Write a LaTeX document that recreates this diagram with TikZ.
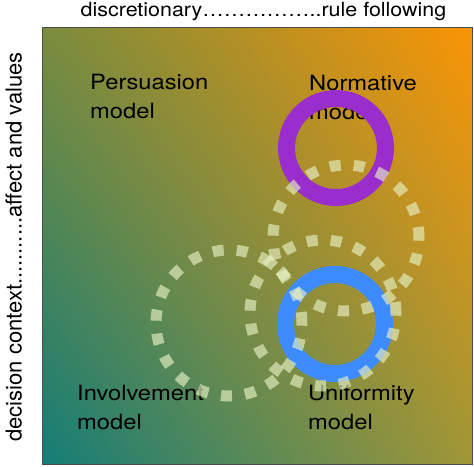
\documentclass[tikz,border=0pt]{standalone}
\usepackage{fontspec}
\setmainfont{TeX Gyre Heros}
\newfontfamily\axisfont[FakeStretch=1.10]{TeX Gyre Heros}
\newfontfamily\modelfont[FakeStretch=1.13]{TeX Gyre Heros}
\usetikzlibrary{shadings}
\definecolor{fieldteal}{RGB}{20,125,120}
\definecolor{fieldolive}{RGB}{122,140,62}
\definecolor{fieldoliveb}{RGB}{160,150,55}
\definecolor{fieldorange}{RGB}{250,148,5}
\definecolor{ringpurple}{RGB}{154,46,204}
\definecolor{ringblue}{RGB}{62,138,255}
\definecolor{dotpale}{RGB}{230,240,195}

\begin{document}
\begin{tikzpicture}[x=1pt,y=-1pt]

%
% Styles
%
\tikzstyle{toptext}   = [inner sep=0,font=\axisfont\fontsize{19.5}{23}\selectfont]
\tikzstyle{sidetext}  = [inner sep=0,font=\fontsize{22}{26}\selectfont]
\tikzstyle{modeltext} = [inner sep=0,align=left,anchor=north west,font=\modelfont\fontsize{21}{29}\selectfont]
\tikzstyle{ring}      = [circle,draw,line width=17pt,minimum size=99pt,inner sep=0]
\tikzstyle{dotring}   = [circle,draw=dotpale,draw opacity=0.65,line width=11pt,dash pattern=on 11pt off 13pt,minimum size=146pt,inner sep=0]

\useasboundingbox (0,0) rectangle (474,466);

% field
\shade[upper left=fieldolive,upper right=fieldorange,lower left=fieldteal,lower right=fieldoliveb] (42,27) rectangle (472,464);
\draw[gray!60!black,line width=0.8pt] (42,27) rectangle (472,464);

% axes
\node[toptext,anchor=base] (ruleaxis) at (263.5,16) {discretionary……………..rule following};
\node[sidetext,rotate=90,anchor=base east] (contextaxis) at (21.5,52) {decision context...........affect and values};

% models
\node[modeltext] (persuasion)  at (90,74)  {Persuasion\\model};
\node[modeltext] (normative)   at (309,75) {Normative\\model};
\node[modeltext] (involvement) at (77,385) {Involvement\\model};
\node[modeltext] (uniformity)  at (308,385) {Uniformity\\model};

\node[ring,draw=ringpurple] (normring) at (336,148) {};
\node[ring,draw=ringblue]   (unifring) at (335,324) {};

\node[dotring] (dotA) at (346,238) {};
\node[dotring] (dotB) at (229,323) {};
\node[dotring] (dotC) at (323,313) {};

\end{tikzpicture}
\end{document}
